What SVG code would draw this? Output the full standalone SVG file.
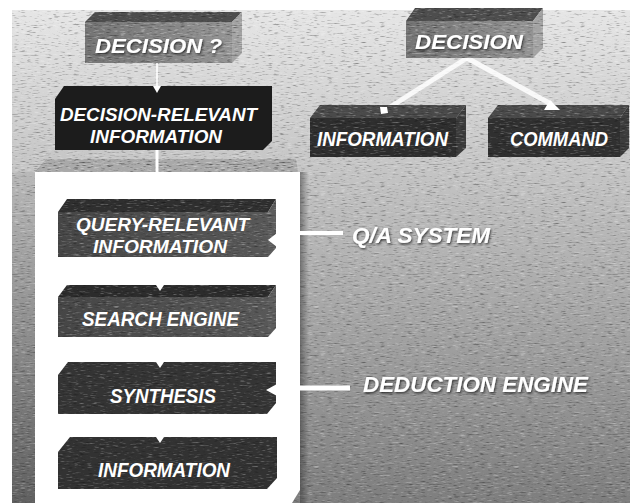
<svg xmlns="http://www.w3.org/2000/svg" width="630" height="503" viewBox="0 0 630 503">
  <style>
    .lbl { font-family: "Liberation Sans", Arial, Helvetica, sans-serif; font-weight: bold; font-style: italic; fill: #ffffff; }
    .node-lbl { font-size: 20px; text-anchor: middle; }
    .two-line { font-size: 19px; }
    .side-lbl { font-size: 22px; }
    .conn { stroke: #ffffff; fill: none; }
    .tip { fill: #ffffff; }
    .grain { fill: url(#grainTile); }
  </style>
  <defs>
    <linearGradient id="bgGrad" gradientUnits="userSpaceOnUse" x1="0" y1="10" x2="0" y2="503">
      <stop offset="0" stop-color="#e6e6e6"/>
      <stop offset="1" stop-color="#7e7e7e"/>
    </linearGradient>
    <linearGradient id="stripGrad" x1="0" y1="0" x2="0" y2="1">
      <stop offset="0" stop-color="#b8b8b8"/>
      <stop offset="1" stop-color="#606060"/>
    </linearGradient>
    <linearGradient id="edgeShade" x1="0" y1="0" x2="1" y2="0">
      <stop offset="0" stop-color="#303030" stop-opacity="0.5"/>
      <stop offset="1" stop-color="#303030" stop-opacity="0"/>
    </linearGradient>
    <linearGradient id="midFace" x1="0" y1="0" x2="1" y2="0">
      <stop offset="0" stop-color="#747474"/>
      <stop offset="1" stop-color="#949494"/>
    </linearGradient>
    <linearGradient id="darkFace" x1="0" y1="0" x2="1" y2="0">
      <stop offset="0" stop-color="#464646"/>
      <stop offset="1" stop-color="#585858"/>
    </linearGradient>
    <!-- light and dark specks of scanned paper, made once and tiled -->
    <filter id="speckOnly" x="0" y="0" width="1" height="1" color-interpolation-filters="sRGB">
      <feTurbulence type="fractalNoise" baseFrequency="0.15 0.9" numOctaves="2" seed="9" stitchTiles="stitch" result="n"/>
      <feColorMatrix in="n" type="matrix" values="0 0 0 0 0  0 0 0 0 0  0 0 0 0 0  -1.6 0 0 0 0.68" result="dk"/>
      <feColorMatrix in="n" type="matrix" values="0 0 0 0 1  0 0 0 0 1  0 0 0 0 1  1.6 0 0 0 -0.92" result="lt"/>
      <feMerge result="sp">
        <feMergeNode in="dk"/>
        <feMergeNode in="lt"/>
      </feMerge>
      <feComposite in="sp" in2="SourceAlpha" operator="in"/>
    </filter>
    <pattern id="grainTile" patternUnits="userSpaceOnUse" x="0" y="0" width="200" height="160">
      <rect width="200" height="160" fill="#000000" filter="url(#speckOnly)"/>
    </pattern>
    <filter id="shadow" x="-10%" y="-30%" width="120%" height="160%">
      <feDropShadow dx="1" dy="1.5" stdDeviation="1" flood-color="#1a1a1a" flood-opacity="0.75"/>
    </filter>
  </defs>

  <!-- page background -->
  <rect width="630" height="503" fill="#ffffff"/>
  <rect x="12" y="10" width="618" height="493" fill="url(#bgGrad)"/>
  <rect x="12" y="172" width="23" height="331" fill="url(#stripGrad)"/>
  <rect class="grain" x="12" y="10" width="618" height="493" opacity="0.7"/>

  <!-- white panel holding the question-answering chain -->
  <g id="panel">
    <polygon points="35,172 46,159 296,159 298,172" fill="#a9a9a9"/>
    <polygon class="grain" points="35,172 46,159 296,159 298,172"/>
    <rect x="300" y="172" width="9" height="331" fill="url(#edgeShade)"/>
    <polygon points="35,172 300,172 300,490 292,503 35,503" fill="#ffffff"/>
  </g>

  <!-- connectors -->
  <g id="connectors">
    <line class="conn" x1="157" y1="63" x2="157" y2="88" stroke-width="2" stroke-opacity="0.8"/>
    <line class="conn" x1="157" y1="150" x2="157" y2="172" stroke-width="3"/>
    <line class="conn" x1="467" y1="58" x2="384" y2="111" stroke-width="5" stroke-opacity="0.85"/>
    <line class="conn" x1="467" y1="58" x2="551" y2="104" stroke-width="5" stroke-opacity="0.85"/>
    <line class="conn" x1="300" y1="233" x2="343" y2="233" stroke-width="4"/>
    <line class="conn" x1="300" y1="388" x2="350" y2="388" stroke-width="5"/>
  </g>

  <g id="n-decision-q">
    <polygon points="85,22 232,22 232,63 85,63" fill="url(#midFace)"/>
    <polygon points="85,22 95,12 242,12 232,22" fill="#4d4d4d"/>
    <polygon points="232,22 242,12 242,53 232,63" fill="#a3a3a3"/>
    <polygon class="grain" points="85,22 95,12 242,12 242,53 232,63 85,63" opacity="0.8"/>
    <text class="lbl node-lbl" x="158.5" y="53" font-size="23" textLength="127" lengthAdjust="spacingAndGlyphs" filter="url(#shadow)">DECISION ?</text>
  </g>

  <g id="n-decision-relevant">
    <polygon points="55,99 64,86 272,86 272,141 263,150 55,150" fill="#1c1c1c"/>
    <polygon class="tip" points="153,86 161,86 157,93"/>
    <text class="lbl node-lbl two-line" x="158.5" y="121" textLength="197" lengthAdjust="spacingAndGlyphs">DECISION-RELEVANT</text>
    <text class="lbl node-lbl two-line" x="156" y="143" textLength="132" lengthAdjust="spacingAndGlyphs">INFORMATION</text>
  </g>

  <g id="n-decision">
    <polygon points="406,21 533,21 533,58 406,58" fill="url(#midFace)"/>
    <polygon points="406,21 415,8 543,8 533,21" fill="#4d4d4d"/>
    <polygon points="533,21 543,8 543,48 533,58" fill="#a3a3a3"/>
    <polygon class="grain" points="406,21 415,8 543,8 543,48 533,58 406,58" opacity="0.8"/>
    <text class="lbl node-lbl" x="469" y="49" font-size="23" textLength="108" lengthAdjust="spacingAndGlyphs" filter="url(#shadow)">DECISION</text>
  </g>

  <g id="n-information-out">
    <polygon points="310,118 456,118 456,157 310,157" fill="#2e2e2e"/>
    <polygon points="310,118 320,105 466,105 456,118" fill="#4a4a4a"/>
    <polygon points="456,118 466,105 466,148 456,157" fill="#3c3c3c"/>
    <polygon class="grain" points="310,118 320,105 466,105 466,148 456,157 310,157" opacity="0.7"/>
    <polygon class="tip" points="380,107 387,107 388,113 381,114"/>
    <text class="lbl node-lbl" x="382.5" y="146" textLength="131" lengthAdjust="spacingAndGlyphs">INFORMATION</text>
  </g>

  <g id="n-command">
    <polygon points="488,118 620,118 620,157 488,157" fill="#303030"/>
    <polygon points="488,118 498,105 629,105 620,118" fill="#4a4a4a"/>
    <polygon points="620,118 629,105 629,148 620,157" fill="#3c3c3c"/>
    <polygon class="grain" points="488,118 498,105 629,105 629,148 620,157 488,157" opacity="0.7"/>
    <polygon class="tip" points="544,110 560,110 550,100"/>
    <text class="lbl node-lbl" x="559" y="146" textLength="98" lengthAdjust="spacingAndGlyphs">COMMAND</text>
  </g>

  <g id="n-query-relevant">
    <polygon points="58,212 268,212 268,257 58,257" fill="url(#darkFace)"/>
    <polygon points="58,212 67,199 276,199 268,212" fill="#2f2f2f"/>
    <polygon points="268,212 276,199 276,248 268,257" fill="#5c5c5c"/>
    <polygon class="grain" points="58,212 67,199 276,199 276,248 268,257 58,257" opacity="0.7"/>
    <polygon class="tip" points="277,233 268,240 277,247"/>
    <text class="lbl node-lbl two-line" x="162.5" y="231" textLength="173" lengthAdjust="spacingAndGlyphs">QUERY-RELEVANT</text>
    <text class="lbl node-lbl two-line" x="160" y="253" textLength="134" lengthAdjust="spacingAndGlyphs">INFORMATION</text>
  </g>

  <g id="n-search-engine">
    <polygon points="58,297 268,297 268,337 58,337" fill="url(#darkFace)"/>
    <polygon points="58,297 67,285 276,285 268,297" fill="#2c2c2c"/>
    <polygon points="268,297 276,285 276,328 268,337" fill="#5c5c5c"/>
    <polygon class="grain" points="58,297 67,285 276,285 276,328 268,337 58,337" opacity="0.7"/>
    <polygon class="tip" points="156,285 164,285 160,291"/>
    <text class="lbl node-lbl" x="160.5" y="326" textLength="157" lengthAdjust="spacingAndGlyphs">SEARCH ENGINE</text>
  </g>

  <g id="n-synthesis">
    <polygon points="58,375 68,362 276,362 276,403 267,414 58,414" fill="#343434"/>
    <polygon class="grain" points="58,375 68,362 276,362 276,403 267,414 58,414" opacity="0.6"/>
    <polygon class="tip" points="156,362 164,362 160,368"/>
    <polygon class="tip" points="277,384 266,390 277,396"/>
    <text class="lbl node-lbl" x="163" y="403" textLength="106" lengthAdjust="spacingAndGlyphs">SYNTHESIS</text>
  </g>

  <g id="n-information">
    <polygon points="58,452 70,437 277,437 277,478 267,489 58,489" fill="#323232"/>
    <polygon class="grain" points="58,452 70,437 277,437 277,478 267,489 58,489" opacity="0.6"/>
    <polygon class="tip" points="156,437 164,437 160,443"/>
    <text class="lbl node-lbl" x="164" y="477" textLength="132" lengthAdjust="spacingAndGlyphs">INFORMATION</text>
  </g>

  <g id="labels">
    <text class="lbl side-lbl" x="352" y="243" textLength="138" lengthAdjust="spacingAndGlyphs" filter="url(#shadow)">Q/A SYSTEM</text>
    <text class="lbl side-lbl" x="363" y="392" textLength="225" lengthAdjust="spacingAndGlyphs" filter="url(#shadow)">DEDUCTION ENGINE</text>
  </g>
</svg>
